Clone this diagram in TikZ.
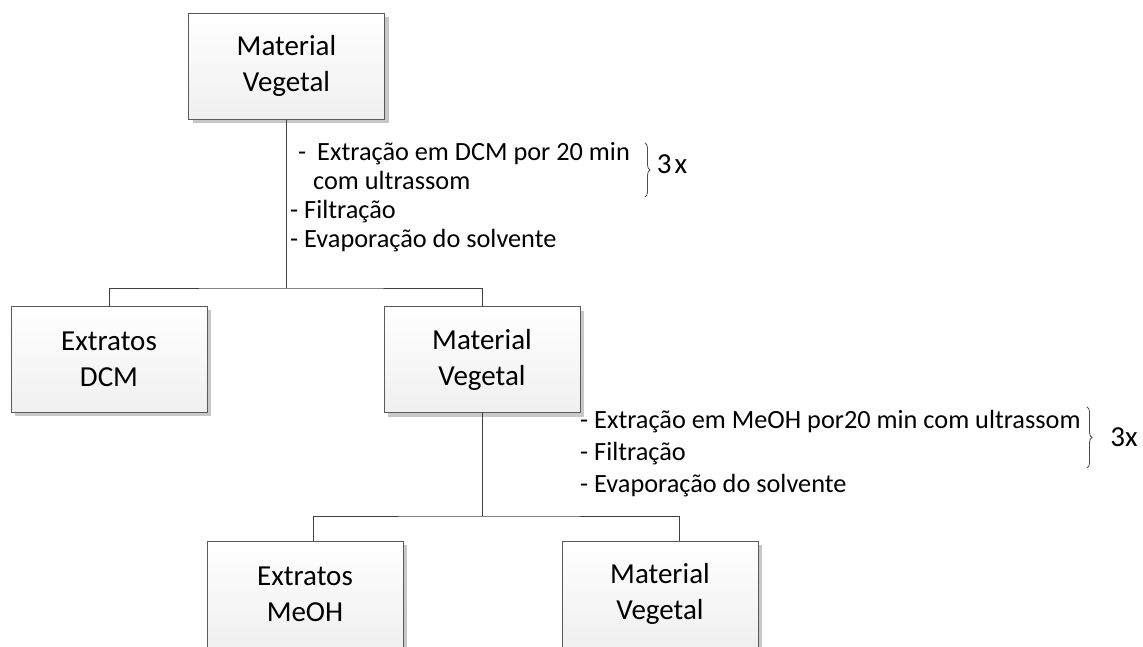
\documentclass[tikz,border=0pt]{standalone}
\usepackage{fontspec}
\setmainfont{Carlito}
\usetikzlibrary{shadows,decorations.pathreplacing}
\definecolor{boxline}{HTML}{5A5A5A}
\definecolor{boxshade}{HTML}{C8C8C8}
\tikzstyle{box}=[rectangle, draw=boxline, line width=1pt, top color=white, bottom color=black!6, minimum width=196pt, minimum height=106pt, align=center, font=\fontsize{29}{36}\selectfont, drop shadow={shadow xshift=4pt, shadow yshift=-4pt, fill=boxshade, opacity=1}]
\tikzstyle{link}=[-, draw=black!75, line width=1pt]
\tikzstyle{steps}=[anchor=north west, align=left, inner sep=0pt, font=\fontsize{26.3}{29}\selectfont]
\tikzstyle{rbrace}=[decorate, decoration={brace, amplitude=5pt}, draw=black!70, line width=0.8pt]
\tikzstyle{reps}=[inner sep=0pt, font=\fontsize{29}{30}\selectfont]
\begin{document}
\begin{tikzpicture}[x=1pt,y=-1pt]
				\useasboundingbox (0,0) rectangle (1143,646);
				
				%The first level
				\draw (286.5,66) node[box] (mv1) {Material\\Vegetal};
				\draw (109,359) node[box] (dcm) {Extratos\\DCM};
				\draw (482,359.5) node[box] (mv2) {Material\\Vegetal};
				
				\coordinate (bar1) at (286.5,288);
				\draw[link] (mv1) -- (bar1);
				\draw[link] (dcm.north) |- (bar1) -| (mv2.north);
				
				%The DCM steps
				\draw (290,142.5) node[steps] (dcmsteps) {\hspace*{8pt}-\hspace{11pt}Extração em DCM por 20 min\\
					\hspace*{23pt}com ultrassom\\- Filtração\\- Evaporação do solvente};
				\coordinate (b1top) at (645,143);
				\coordinate (b1bot) at (645,197);
				\draw[rbrace] (b1top) -- (b1bot);
				\draw (672,164) node[reps] (rep1) {3\kern3pt x};
				
				%The second level
				\draw (305,594) node[box] (meoh) {Extratos\\MeOH};
				\draw (660,594) node[box] (mv3) {Material\\Vegetal};
				
				\coordinate (bar2) at (482,516);
				\draw[link] (mv2) -- (bar2);
				\draw[link] ([xshift=8pt]meoh.north) |- (bar2) -| ([xshift=19pt]mv3.north);
				
				%The MeOH steps
				\draw (580,410.5) node[steps, font=\fontsize{26.3}{32}\selectfont] (meohsteps) {- Extração em MeOH por20 min com ultrassom\\
					- Filtração\\- Evaporação do solvente};
				\coordinate (b2top) at (1087,407);
				\coordinate (b2bot) at (1087,468);
				\draw[rbrace] (b2top) -- (b2bot);
				\draw (1124,437) node[reps] (rep2) {3x};
			\end{tikzpicture}
\end{document}
